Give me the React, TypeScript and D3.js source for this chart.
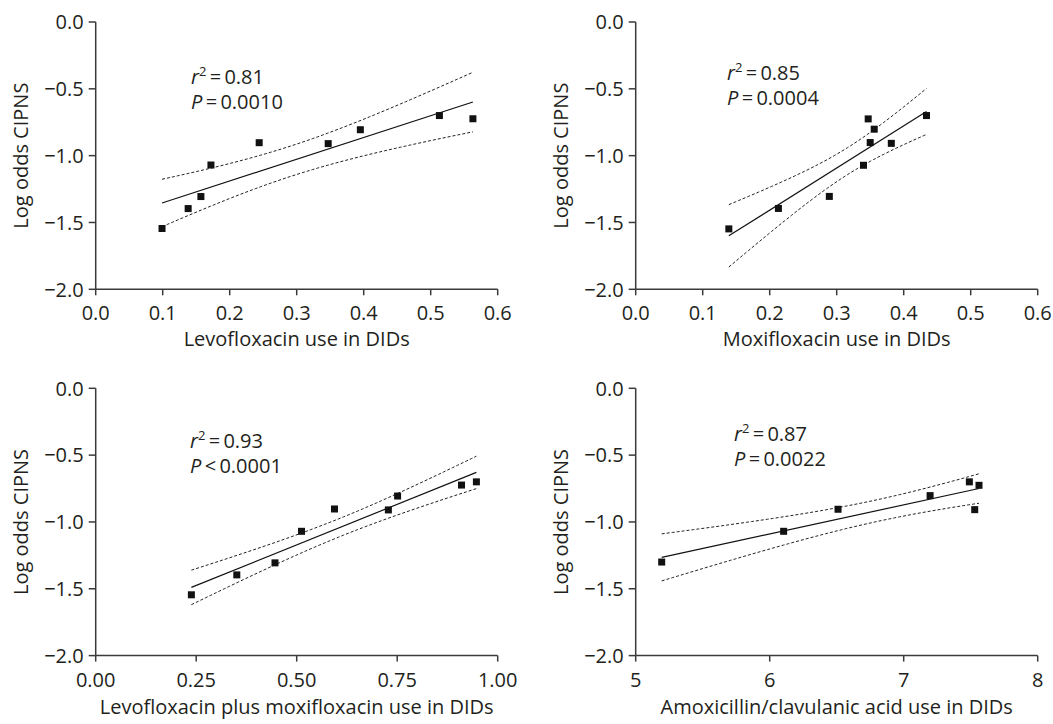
import React from "react";
import * as d3 from "d3";

// ---------- DATA ----------
const logOddsCIPNS_levo = [-1.545, -1.396, -1.306, -1.07, -0.903, -0.91, -0.806, -0.70, -0.724];
const levofloxacinUse = [0.099, 0.138, 0.157, 0.172, 0.244, 0.347, 0.395, 0.513, 0.563];

const logOddsCIPNS_moxi = [-1.548, -1.395, -1.305, -1.072, -0.725, -0.802, -0.902, -0.908, -0.70];
const moxifloxacinUse = [0.139, 0.213, 0.289, 0.34, 0.347, 0.356, 0.35, 0.3815, 0.434];

const logOddsCIPNS_both = [-1.545, -1.396, -1.306, -1.07, -0.903, -0.91, -0.806, -0.70, -0.724];
const levoPlusMoxiUse = [0.238, 0.351, 0.446, 0.512, 0.594, 0.728, 0.751, 0.947, 0.91];

const logOddsCIPNS_amox = [-1.30, -1.07, -0.905, -0.803, -0.70, -0.726, -0.908];
const amoxClavUse = [5.194, 6.104, 6.51, 7.197, 7.49, 7.562, 7.53];

const yTickValues = [0, -0.5, -1.0, -1.5, -2.0];
const yTickLabels = ["0.0", "\u22120.5", "\u22121.0", "\u22121.5", "\u22122.0"];

const xTicks1 = [0, 0.1, 0.2, 0.3, 0.4, 0.5, 0.6];
const xTickLabels1 = ["0.0", "0.1", "0.2", "0.3", "0.4", "0.5", "0.6"];
const xTicks3 = [0, 0.25, 0.5, 0.75, 1.0];
const xTickLabels3 = ["0.00", "0.25", "0.50", "0.75", "1.00"];
const xTicks4 = [5, 6, 7, 8];
const xTickLabels4 = ["5", "6", "7", "8"];

const xTitles = [
  "Levofloxacin use in DIDs",
  "Moxifloxacin use in DIDs",
  "Levofloxacin plus moxifloxacin use in DIDs",
  "Amoxicillin/clavulanic acid use in DIDs",
];
const yTitle = "Log odds CIPNS";
const r2Labels = ["0.81", "0.85", "0.93", "0.87"];
const pOps = ["=", "=", "<", "="];
const pValues = ["0.0010", "0.0004", "0.0001", "0.0022"];

// t quantiles (0.975) by degrees of freedom
const tQuantile: Record<number, number> = { 5: 2.5706, 6: 2.4469, 7: 2.3646 };

// ---------- LAYOUT ----------
const W = 1053;
const H = 724;
const colX = [95.7, 635.7];
const rowTop = [22, 388.3];
const titleOffset = [57, 58];
const PW = 402;
const PH = 267.3;

const panels = [
  { xs: levofloxacinUse, ys: logOddsCIPNS_levo, dom: [0, 0.6], ticks: xTicks1, tickLabels: xTickLabels1, col: 0, row: 0, ann: [191, 84, 109] },
  { xs: moxifloxacinUse, ys: logOddsCIPNS_moxi, dom: [0, 0.6], ticks: xTicks1, tickLabels: xTickLabels1, col: 1, row: 0, ann: [727, 80, 105] },
  { xs: levoPlusMoxiUse, ys: logOddsCIPNS_both, dom: [0, 1.0], ticks: xTicks3, tickLabels: xTickLabels3, col: 0, row: 1, ann: [190, 448, 473] },
  { xs: amoxClavUse, ys: logOddsCIPNS_amox, dom: [5, 8], ticks: xTicks4, tickLabels: xTickLabels4, col: 1, row: 1, ann: [734, 441, 466] },
];

const FONT = "'Open Sans', 'Noto Sans', sans-serif";
const FS = 20;
const TXT = "#231f20";
const AX = "#3a3a3a";

function regression(xs: number[], ys: number[]) {
  const n = xs.length;
  const mx = d3.mean(xs)!;
  const my = d3.mean(ys)!;
  let sxx = 0, sxy = 0;
  for (let i = 0; i < n; i++) {
    sxx += (xs[i] - mx) ** 2;
    sxy += (xs[i] - mx) * (ys[i] - my);
  }
  const b = sxy / sxx;
  const a = my - b * mx;
  let sse = 0;
  for (let i = 0; i < n; i++) sse += (ys[i] - (a + b * xs[i])) ** 2;
  const s = Math.sqrt(sse / (n - 2));
  const t = tQuantile[n - 2] ?? 2.36;
  const half = (x: number) => t * s * Math.sqrt(1 / n + (x - mx) ** 2 / sxx);
  return { a, b, half };
}

function Panel({ p, idx }: { p: (typeof panels)[number]; idx: number }) {
  const x0 = colX[p.col];
  const y0 = rowTop[p.row];
  const xScale = d3.scaleLinear().domain(p.dom).range([x0, x0 + PW]);
  const yScale = d3.scaleLinear().domain([-2, 0]).range([y0 + PH, y0]);
  const bottom = y0 + PH;

  const { a, b, half } = regression(p.xs, p.ys);
  const [xmin, xmax] = d3.extent(p.xs) as [number, number];
  const samples = d3.range(0, 61).map((i) => xmin + ((xmax - xmin) * i) / 60);
  const line = d3
    .line<[number, number]>()
    .x((d) => xScale(d[0]))
    .y((d) => yScale(d[1]));
  const fitPath = line([
    [xmin, a + b * xmin],
    [xmax, a + b * xmax],
  ]);
  const upper = line(samples.map((x) => [x, a + b * x + half(x)] as [number, number]));
  const lower = line(samples.map((x) => [x, a + b * x - half(x)] as [number, number]));

  const [ax, ay1, ay2] = p.ann;
  const ms = 7;

  return (
    <g>
      {/* axes */}
      <line x1={x0} x2={x0} y1={y0} y2={bottom} stroke={AX} strokeWidth={1.5} />
      <line x1={x0} x2={x0 + PW} y1={bottom} y2={bottom} stroke={AX} strokeWidth={1.5} />
      {yTickValues.map((v, i) => (
        <g key={"y" + i}>
          <line x1={x0 - 7} x2={x0} y1={yScale(v)} y2={yScale(v)} stroke={AX} strokeWidth={1.5} />
          <text x={x0 - 12} y={yScale(v)} dy="0.36em" textAnchor="end" fontSize={FS} fill={TXT} fontFamily={FONT}>
            {yTickLabels[i]}
          </text>
        </g>
      ))}
      {p.ticks.map((v, i) => (
        <g key={"x" + i}>
          <line x1={xScale(v)} x2={xScale(v)} y1={bottom} y2={bottom + 6} stroke={AX} strokeWidth={1.5} />
          <text x={xScale(v)} y={bottom + 31} textAnchor="middle" fontSize={FS} fill={TXT} fontFamily={FONT}>
            {p.tickLabels[i]}
          </text>
        </g>
      ))}
      <text x={x0 + PW / 2} y={bottom + titleOffset[p.row]} textAnchor="middle" fontSize={FS} fill={TXT} fontFamily={FONT}>
        {xTitles[idx]}
      </text>
      <text
        transform={`translate(${x0 - 75},${y0 + PH / 2}) rotate(-90)`}
        textAnchor="middle"
        dy="0.36em"
        fontSize={FS}
        fill={TXT}
        fontFamily={FONT}
      >
        {yTitle}
      </text>

      {/* bands and fit */}
      <path d={upper!} fill="none" stroke="#222" strokeWidth={1} strokeDasharray="3,2" />
      <path d={lower!} fill="none" stroke="#222" strokeWidth={1} strokeDasharray="3,2" />
      <path d={fitPath!} fill="none" stroke="#111" strokeWidth={1.2} />

      {/* points */}
      {p.xs.map((x, i) => (
        <rect key={"p" + i} x={xScale(x) - ms / 2} y={yScale(p.ys[i]) - ms / 2} width={ms} height={ms} fill="#111" />
      ))}

      {/* annotation */}
      <text x={ax} y={ay1} fontSize={FS} fill={TXT} fontFamily={FONT}>
        <tspan fontStyle="italic">r</tspan>
        <tspan fontSize={13} dy={-8}>2</tspan>
        <tspan dy={8}>{"\u2009=\u2009" + r2Labels[idx]}</tspan>
      </text>
      <text x={ax} y={ay2} fontSize={FS} fill={TXT} fontFamily={FONT}>
        <tspan fontStyle="italic">P</tspan>
        <tspan>{"\u2009" + pOps[idx] + "\u2009" + pValues[idx]}</tspan>
      </text>
    </g>
  );
}

export default function App() {
  return (
    <svg
      width={W}
      height={H}
      viewBox={`0 0 ${W} ${H}`}
      style={{ position: "absolute", left: 0, top: 0, background: "#fff" }}
    >
      <rect x={0} y={0} width={W} height={H} fill="#fff" />
      {panels.map((p, i) => (
        <Panel key={i} p={p} idx={i} />
      ))}
    </svg>
  );
}
